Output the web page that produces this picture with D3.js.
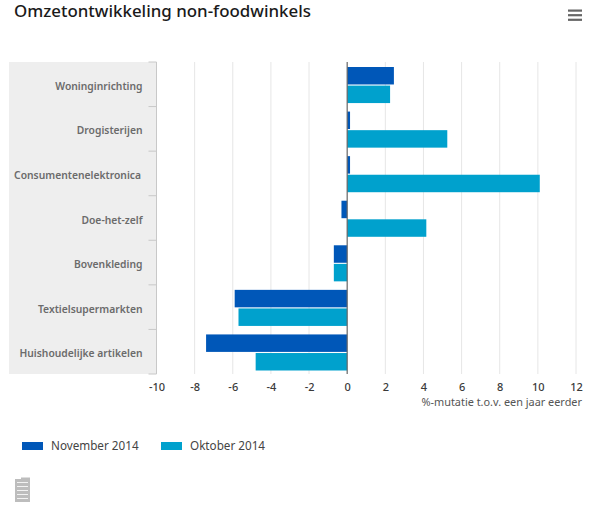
<!DOCTYPE html>
<html>
<head>
<meta charset="utf-8">
<script src="https://cdn.jsdelivr.net/npm/d3@7"></script>
<style>
body { margin: 0; background: #fff; font-family: "Noto Sans", sans-serif; }
text { font-family: "Noto Sans", sans-serif; }
</style>
</head>
<body>
<svg id="chart" width="600" height="508"></svg>
<script>
// chart values
var categories = ["Woninginrichting", "Drogisterijen", "Consumentenelektronica", "Doe-het-zelf", "Bovenkleding", "Textielsupermarkten", "Huishoudelijke artikelen"];
var november = [2.45, 0.15, 0.15, -0.3, -0.7, -5.9, -7.4];
var oktober = [2.25, 5.25, 10.1, 4.15, -0.7, -5.7, -4.8];
var xTicks = [-10, -8, -6, -4, -2, 0, 2, 4, 6, 8, 10, 12];
var seriesNames = ["November 2014", "Oktober 2014"];
var seriesColors = ["#0057b8", "#00a1cd"];

var svg = d3.select("#chart");
var plotLeft = 156.5, plotRight = 576, plotTop = 62, plotBottom = 374;

var x = d3.scaleLinear().domain([-10, 12]).range([plotLeft, plotRight]);
var y = d3.scaleBand().domain(categories).range([plotTop, plotBottom]);
var inner = d3.scaleBand().domain([0, 1]).range([5, y.bandwidth() - 3.5]).paddingInner(0.06);

svg.append("text").attr("x", 14).attr("y", 17).attr("font-size", 16.9)
    .attr("fill", "#1a1a1a").attr("font-weight", 500).text("Omzetontwikkeling non-foodwinkels");

// menu icon top right
svg.selectAll(".menu").data([0, 1, 2]).enter().append("rect")
    .attr("x", 568).attr("width", 14).attr("height", 2.2)
    .attr("y", function(d){ return 9.5 + d * 4.6; }).attr("fill", "#666");

// grey panel behind the category labels
svg.append("rect").attr("x", 9).attr("y", plotTop).attr("width", plotLeft - 9).attr("height", plotBottom - plotTop).attr("fill", "#eeeeee");

// vertical gridlines
svg.selectAll(".grid").data(xTicks.filter(function(d){ return d !== 0; })).enter().append("line")
    .attr("x1", x).attr("x2", x).attr("y1", plotTop).attr("y2", plotBottom)
    .attr("stroke", "#e6e6e6").attr("stroke-width", 1);

// band ticks on the left of the plot
svg.selectAll(".band").data(d3.range(categories.length + 1)).enter().append("line")
    .attr("x1", plotLeft - 8).attr("x2", plotLeft)
    .attr("y1", function(d){ return plotTop + d * y.step(); })
    .attr("y2", function(d){ return plotTop + d * y.step(); })
    .attr("stroke", "#c8c8c8");
svg.append("line").attr("x1", plotLeft).attr("x2", plotLeft).attr("y1", plotTop).attr("y2", plotBottom).attr("stroke", "#c8c8c8");

svg.selectAll(".label").data(categories).enter().append("text")
    .attr("x", function(d){ return d === "Consumentenelektronica" ? 141 : 142.5; })
    .attr("y", function(d){ return y(d) + y.bandwidth() / 2 + 5.5; })
    .attr("text-anchor", "end").attr("font-size", 10.3).attr("font-weight", 600).attr("fill", "#6b6b6b").text(function(d){ return d; });

[november, oktober].forEach(function(values, s){
    svg.selectAll(".bar" + s).data(values).enter().append("rect")
        .attr("x", function(d){ return x(Math.min(0, d)); })
        .attr("width", function(d){ return Math.abs(x(d) - x(0)); })
        .attr("y", function(d, i){ return y(categories[i]) + inner(s); })
        .attr("height", inner.bandwidth())
        .attr("fill", seriesColors[s]);
});

// zero line
svg.append("line").attr("x1", x(0)).attr("x2", x(0)).attr("y1", plotTop).attr("y2", plotBottom).attr("stroke", "#666").attr("stroke-width", 1.2);

var axis = d3.axisBottom(x).tickValues(xTicks).tickSize(0).tickPadding(0).tickFormat(d3.format("d"));
var axisG = svg.append("g").attr("transform", "translate(0,381)").call(axis);
axisG.select(".domain").remove();
axisG.selectAll("text").attr("font-size", 11).attr("font-weight", 500).attr("font-family", "\"Noto Sans\", sans-serif").attr("fill", "#3a3a3a")
    .attr("dy", "0.9em").text(function(d){ return String(d); });

svg.append("text").attr("x", 582).attr("y", 406).attr("text-anchor", "end").attr("font-size", 10.9)
    .attr("fill", "#555").text("%-mutatie t.o.v. een jaar eerder");

// legend
var legendX = [22, 161];
seriesNames.forEach(function(name, s){
    svg.append("rect").attr("x", legendX[s]).attr("y", 442).attr("width", 21).attr("height", 8).attr("fill", seriesColors[s]);
    svg.append("text").attr("x", legendX[s] + 29).attr("y", 450).attr("font-size", 11.7).attr("fill", "#444").text(name);
});

// cbs logo
var logo = svg.append("g").attr("transform", "translate(15,479)");
logo.append("rect").attr("width", 15).attr("height", 23).attr("fill", "#bdbdbd");
logo.append("rect").attr("x", 6).attr("y", -1.5).attr("width", 9).attr("height", 2).attr("fill", "#bdbdbd");
logo.selectAll(".logoLine").data([3, 7, 11, 15, 19]).enter().append("rect")
    .attr("x", 2).attr("width", 11).attr("height", 1).attr("y", function(d){ return d; }).attr("fill", "#f2f2f2");
</script>
</body>
</html>
